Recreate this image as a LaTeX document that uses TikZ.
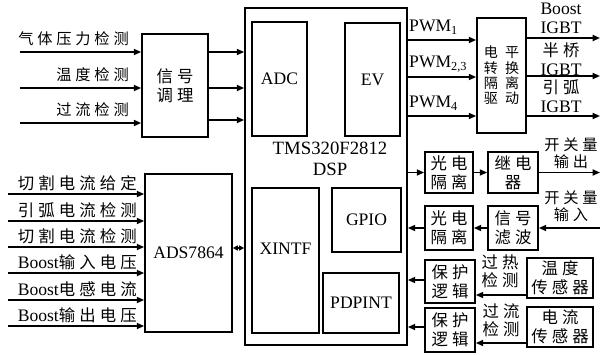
\documentclass[tikz,border=0pt]{standalone}
\usepackage{fontspec}
\setmainfont{Liberation Serif}
\newfontfamily\cjk[LetterSpace=25]{Noto Sans CJK SC}
\newfontfamily\cjkw[LetterSpace=50]{Noto Sans CJK SC}
\usetikzlibrary{arrows.meta}
\newcommand{\zhtxt}[1]{{\fontsize{14}{16}\cjk #1}}

\tikzset{
  blk/.style={draw,line width=1.4pt,inner sep=0pt,align=center},
  sz/.style 2 args={minimum width=#1*0.03cm,minimum height=#2*0.03cm},
  arr/.style={line width=1.4pt,-{Triangle[length=2.2mm,width=1.8mm]}},
  darr/.style={line width=1.4pt,{Triangle[length=1.5mm,width=1.5mm]}-{Triangle[length=1.5mm,width=1.5mm]}},
  lat/.style={font=\fontsize{15}{16}\selectfont},
  zh/.style={font=\fontsize{14}{16}\cjk},
  lbl/.style={inner sep=0pt,align=center},
}

\begin{document}
\begin{tikzpicture}[x=0.03cm,y=-0.03cm]
\useasboundingbox (0,0) rectangle (600,354);
% signal conditioning
\node[blk,sz={66}{103},zh] (sig) at (175,85.5) {信号\\调理};
\foreach \y/\t in {52/气体压力检测,88/温度检测,123/过流检测}{
  \coordinate (in\y) at (20,\y);
  \draw[arr] (in\y) -- (sig.west |- in\y);
  \node[lbl,font=\fontsize{13}{15}\cjk,anchor=east] (lin\y) at (129,\y-13) {\t};
}
% DSP
\node[blk,sz={162}{337}] (dsp) at (326,176.5) {};
\node[blk,sz={55}{114},lat] (adc) at (279.5,79) {ADC};
\node[blk,sz={55}{113},lat] (ev) at (372.5,79.5) {EV};
\node[lbl,font=\fontsize{16}{18}\selectfont] (chip) at (330,159) {TMS320F2812\\DSP};
\node[blk,sz={67}{145}] (xintf) at (285.5,260.5) {};
\node[lat] (xintft) at ([yshift=0.35cm]xintf.center) {XINTF};
\node[blk,sz={69}{64},lat] (gpio) at (366.5,220) {GPIO};
\node[blk,sz={76}{60},lat] (pdpint) at (361,303) {PDPINT};
\foreach \y in {52,88,120}
  \draw[arr] (sig.east |- 0,\y) -- (dsp.west |- 0,\y);
% A/D converter
\node[blk,sz={87}{158},lat] (ads) at (188.5,253) {ADS7864};
\foreach \y/\t in {194/{\zhtxt{切割电流给定}},221/{\zhtxt{引弧电流检测}},247/{\zhtxt{切割电流检测}},
    273/{Boost\zhtxt{输入电压}},300/{Boost\zhtxt{电感电流}},326/{Boost\zhtxt{输出电压}}}{
  \coordinate (a\y) at (8,\y);
  \draw[arr] (a\y) -- (ads.west |- a\y);
  \node[lbl,lat,anchor=east] (la\y) at (137,\y-11) {\t};
}
\draw[darr] (ads.east |- 0,248) -- (dsp.west |- 0,248);
% PWM driver
\node[blk,sz={49}{115},font=\fontsize{12}{13}\cjkw] (drv) at (501.5,75.5) {电平\\转换\\隔离\\驱动};
\foreach \y/\t in {40/{PWM\textsubscript{1}},77/{PWM\textsubscript{2,3}},116/{PWM\textsubscript{4}}}{
  \draw[arr] (dsp.east |- 0,\y) -- (drv.west |- 0,\y);
  \node[lat,inner sep=0pt,anchor=west] (lp\y) at (409,\y-13) {\t};
}
\foreach \y in {38,76,116}{
  \coordinate (o\y) at (600,\y);
  \draw[arr] (drv.east |- o\y) -- (o\y);
}
\node[lbl,lat] (lbo) at (561,18.5) {Boost\\IGBT};
\node[lbl,lat] (lhb) at (561,59) {\zhtxt{半桥}\\IGBT};
\node[lbl,lat] (lyh) at (561,96.5) {\zhtxt{引弧}\\IGBT};
% switch output
\node[blk,sz={48}{41},zh] (opto1) at (449,172.5) {光电\\隔离};
\node[blk,sz={50}{41},zh] (relay) at (513,172.5) {继电\\器};
\coordinate (swout) at (600,172.5);
\draw[arr] (dsp.east |- opto1) -- (opto1);
\draw[arr] (opto1) -- (relay);
\draw[arr] (relay) -- (swout);
\node[lbl,font=\fontsize{13}{14.5}\cjk] (lswo) at (571,153.5) {开关量\\输出};
% switch input
\node[blk,sz={48}{44},zh] (opto2) at (449,228) {光电\\隔离};
\node[blk,sz={50}{44},zh] (filt) at (513,228) {信号\\滤波};
\coordinate (swin) at (600,228);
\draw[arr] (swin) -- (filt);
\draw[arr] (filt) -- (opto2);
\draw[arr] (opto2) -- (dsp.east |- opto2);
\node[lbl,font=\fontsize{13}{14.5}\cjk] (lswi) at (571,206.5) {开关量\\输入};
% protection
\node[blk,sz={50}{43},zh] (prot1) at (450,281.5) {保护\\逻辑};
\node[blk,sz={66}{40},zh] (tsen) at (560,278) {温度\\传感器};
\node[blk,sz={50}{44},zh] (prot2) at (450,330) {保护\\逻辑};
\node[blk,sz={66}{40},zh] (isen) at (560,327) {电流\\传感器};
\draw[arr] (tsen.west |- 0,295) -- (prot1.east |- 0,295);
\draw[arr] (prot1.west |- 0,280) -- (dsp.east |- 0,280);
\draw[arr] (isen.west |- 0,343) -- (prot2.east |- 0,343);
\draw[arr] (prot2.west |- 0,327) -- (dsp.east |- 0,327);
\node[lbl,font=\fontsize{14}{15.5}\cjk] (lot) at (500,271) {过热\\检测};
\node[lbl,font=\fontsize{14}{15.5}\cjk] (loc) at (501,320) {过流\\检测};
\end{tikzpicture}
\end{document}
